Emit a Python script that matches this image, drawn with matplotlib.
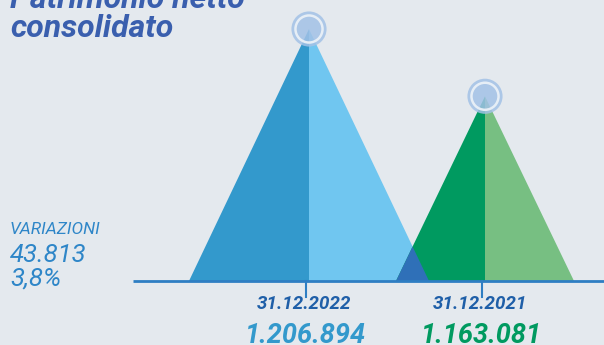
import numpy as np
import matplotlib.pyplot as plt
import matplotlib.patches as mpatches

# dati
date = ['31.12.2022', '31.12.2021']
valori = [1206894, 1163081]
etichette = ['1.206.894', '1.163.081']
variazione = '43.813'
variazione_pct = '3,8%'

BG = '#E4E9EE'
col_sx = ['#3399CC', '#009A60']
col_dx = ['#70C6F0', '#77BF82']
col_txt = ['#3399CC', '#009A60']
col_overlap = '#2F70B8'
col_linea = '#2E7EC3'

W, H = 604, 345
centri = [309, 485]
semilarg = [120, 89]

# l'asse non parte da zero: piede dei triangoli
base = 1042760
k = 252 / (valori[0] - base)          # px per unità
y0 = base - 64 / k
y1 = base + (H - 64) / k

fig = plt.figure(figsize=(W / 100, H / 100), dpi=100)
fig.patch.set_facecolor(BG)
ax = fig.add_axes([0, 0, 1, 1])
ax.set_facecolor(BG)
ax.set_xlim(0, W)
ax.set_ylim(y0, y1)
ax.axis('off')

for i in range(2):
    c, hw, v = centri[i], semilarg[i], valori[i]
    ax.add_patch(mpatches.Polygon([(c - hw, base), (c, v), (c, base)],
                                  closed=True, fc=col_sx[i], ec='none', zorder=2))
    ax.add_patch(mpatches.Polygon([(c, base), (c, v), (c + hw, base)],
                                  closed=True, fc=col_dx[i], ec='none', zorder=2))

# zona di sovrapposizione
xa, xb = centri[0] + semilarg[0], centri[1] - semilarg[1]
s1 = (valori[0] - base) / semilarg[0]   # pendenza lato dx del primo
s2 = (valori[1] - base) / semilarg[1]   # pendenza lato sx del secondo
xi = (s1 * xa + s2 * xb) / (s1 + s2)
yi = base + s1 * (xa - xi)
ax.add_patch(mpatches.Polygon([(xb, base), (xi, yi), (xa, base)],
                              closed=True, fc=col_overlap, ec='none', zorder=3))

# cerchi sulle punte
ax.scatter(centri, valori, s=640, c='#A3C2E6', alpha=0.85, edgecolors='none', zorder=4)
ax.scatter(centri, valori, s=380, facecolors='none', edgecolors='#E6EEF6',
           linewidths=1.8, zorder=5)

# linea di base e tacche
ax.plot([133, W], [base, base], color=col_linea, lw=2, zorder=6, solid_capstyle='butt')
tacca = base - 16 / k
for c in centri:
    ax.plot([c - 3, c - 3], [base, tacca], color=col_linea, lw=1.5, zorder=6)


def px(x, y):
    return x / W, 1 - y / H


for i in range(2):
    ax.text(*px(centri[i] - 5, 309), date[i], transform=fig.transFigure,
            ha='center', va='baseline', fontsize=13.5, fontweight='bold',
            style='italic', color='#1F5FA8', family='Roboto')
    ax.text(*px(centri[i] - 3, 343), etichette[i], transform=fig.transFigure,
            ha='center', va='baseline', fontsize=19.5, fontweight='bold',
            style='italic', color=col_txt[i], family='Roboto')

# titolo
ax.text(*px(10, 8), 'Patrimonio netto', transform=fig.transFigure, ha='left',
        va='baseline', fontsize=23, fontweight='bold', style='italic',
        color='#3A5FAE', family='Roboto')
ax.text(*px(10, 37), 'consolidato', transform=fig.transFigure, ha='left',
        va='baseline', fontsize=23, fontweight='bold', style='italic',
        color='#3A5FAE', family='Roboto')

# variazioni
ax.text(*px(10, 234), 'VARIAZIONI', transform=fig.transFigure, ha='left',
        va='baseline', fontsize=12.5, style='italic',
        color='#2E86C8', family='Roboto')
ax.text(*px(10, 262), variazione, transform=fig.transFigure, ha='left',
        va='baseline', fontsize=18.5, style='italic',
        color='#2E86C8', family='Roboto')
ax.text(*px(10, 286), variazione_pct, transform=fig.transFigure, ha='left',
        va='baseline', fontsize=18.5, style='italic',
        color='#2E86C8', family='Roboto')

plt.savefig('out.png', dpi=100, facecolor=BG)
